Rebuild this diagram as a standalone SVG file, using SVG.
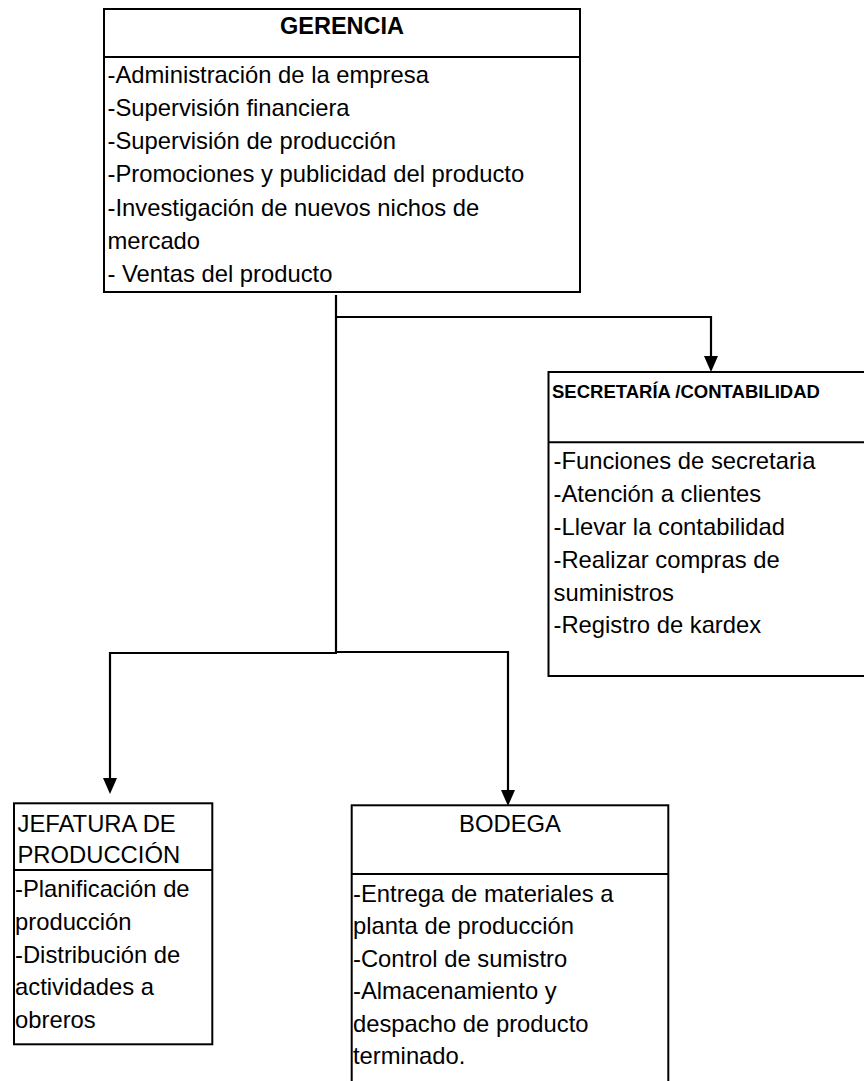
<svg xmlns="http://www.w3.org/2000/svg" width="864" height="1081" viewBox="0 0 864 1081">
  <style>
    .box { fill: #ffffff; stroke: #000000; stroke-width: 2; }
    .div { stroke: #000000; stroke-width: 2; }
    .t { font-family: "Liberation Sans", Arial, sans-serif; font-size: 23.8px; fill: #000000; }
    .b { font-weight: bold; }
    .con { fill: none; stroke: #000000; stroke-width: 2.2; }
    .head { fill: #000000; }
  </style>
  <rect width="864" height="1081" fill="#ffffff"/>

  <g id="connectors">
    <path class="con" d="M336,295 L336,653"/>
    <path class="con" d="M336,317 L711,317 L711,356"/>
    <path class="head" d="M704,356 L718,356 L711,372 Z"/>
    <path class="con" d="M337,653 L110,653 L110,778"/>
    <path class="head" d="M103,778 L117,778 L110,794 Z"/>
    <path class="con" d="M335,652 L508,652 L508,790"/>
    <path class="head" d="M501,790 L515,790 L508,806 Z"/>
  </g>

  <g id="gerencia">
    <rect class="box" x="104" y="9" width="476" height="283"/>
    <line class="div" x1="104" y1="57" x2="580" y2="57"/>
    <text class="t b" x="342" y="34" text-anchor="middle" style="font-size:23.5px">GERENCIA</text>
    <text class="t" x="107.5" y="83.3">-Administración de la empresa</text>
    <text class="t" x="107.5" y="116.3">-Supervisión financiera</text>
    <text class="t" x="107.5" y="149.3">-Supervisión de producción</text>
    <text class="t" x="107.5" y="182.3">-Promociones y publicidad del producto</text>
    <text class="t" x="107.5" y="215.5">-Investigación de nuevos nichos de</text>
    <text class="t" x="107.5" y="248.6">mercado</text>
    <text class="t" x="107.5" y="281.7">- Ventas del producto</text>
  </g>

  <g id="secretaria">
    <rect class="box" x="548.5" y="372" width="330" height="304"/>
    <line class="div" x1="548.5" y1="442.3" x2="870" y2="442.3"/>
    <text class="t b" x="552" y="398.3" style="font-size:18.5px">SECRETARÍA /CONTABILIDAD</text>
    <text class="t" x="553.5" y="469.3">-Funciones de secretaria</text>
    <text class="t" x="553.5" y="502.2">-Atención a clientes</text>
    <text class="t" x="553.5" y="535">-Llevar la contabilidad</text>
    <text class="t" x="553.5" y="567.8">-Realizar compras de</text>
    <text class="t" x="553.5" y="600.5">suministros</text>
    <text class="t" x="553.5" y="633.3">-Registro de kardex</text>
  </g>

  <g id="jefatura">
    <rect class="box" x="14" y="803.3" width="198.3" height="241"/>
    <line class="div" x1="14" y1="870" x2="212.3" y2="870"/>
    <text class="t" x="17.5" y="831.7">JEFATURA DE</text>
    <text class="t" x="17.5" y="863.3">PRODUCCIÓN</text>
    <text class="t" x="15" y="896.7">-Planificación de</text>
    <text class="t" x="15" y="929.5">producción</text>
    <text class="t" x="15" y="962.5">-Distribución de</text>
    <text class="t" x="15" y="995.3">actividades a</text>
    <text class="t" x="15" y="1028">obreros</text>
  </g>

  <g id="bodega">
    <rect class="box" x="351.7" y="805.3" width="316.6" height="300"/>
    <line class="div" x1="351.7" y1="874" x2="668.3" y2="874"/>
    <text class="t" x="510" y="831.7" text-anchor="middle">BODEGA</text>
    <text class="t" x="353" y="901.7">-Entrega de materiales a</text>
    <text class="t" x="353" y="934.3">planta de producción</text>
    <text class="t" x="353" y="966.8">-Control de sumistro</text>
    <text class="t" x="353" y="999.3">-Almacenamiento y</text>
    <text class="t" x="353" y="1031.7">despacho de producto</text>
    <text class="t" x="353" y="1064">terminado.</text>
  </g>
</svg>
